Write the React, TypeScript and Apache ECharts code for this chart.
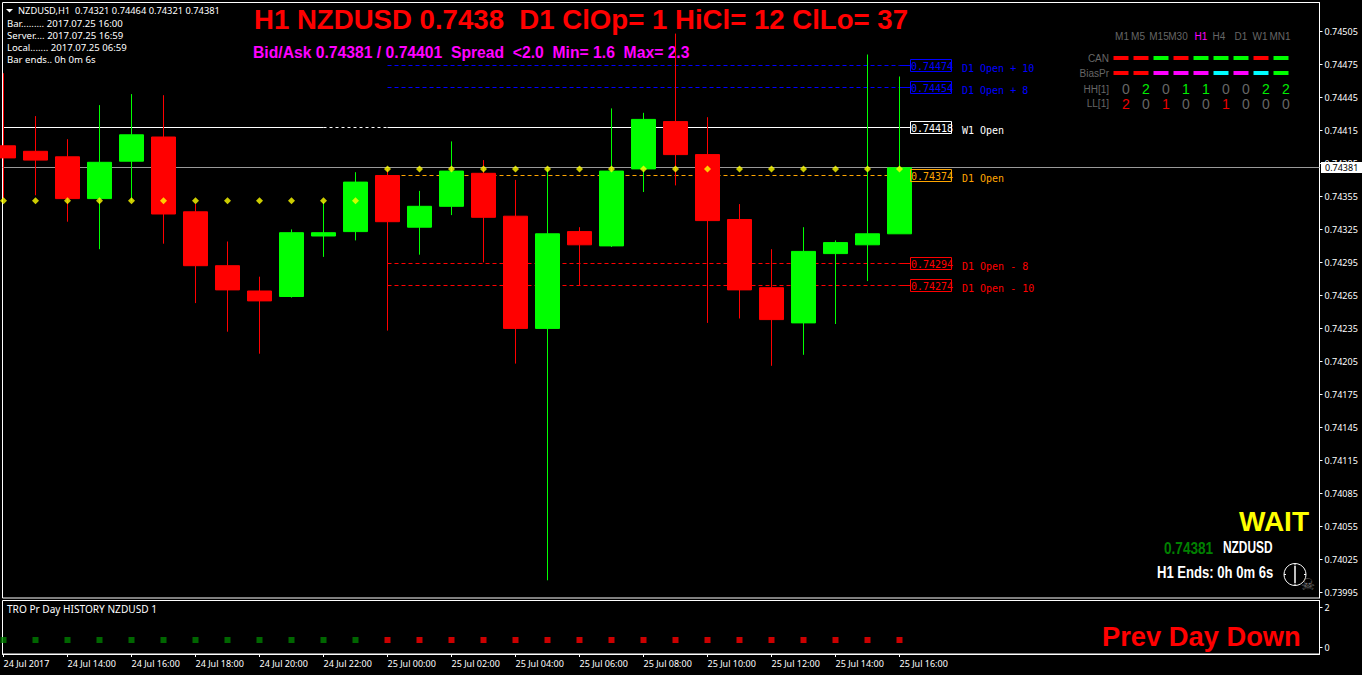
import React, { useEffect, useRef } from "react";
import * as echarts from "echarts";

const opens = [0.74401,0.74396,0.74391,0.74353,0.74387,0.74409,0.74341,0.74292,0.74269,0.74264,0.74319,0.74323,0.74374,0.74327,0.74346,0.74376,0.74337,0.74235,0.74323,0.7431,0.7438,0.74423,0.74393,0.74334,0.74272,0.7424,0.74303,0.74311,0.74321];
const closes = [0.7439,0.74388,0.74353,0.74386,0.74411,0.74339,0.74292,0.7427,0.7426,0.74322,0.74322,0.74368,0.74332,0.74346,0.74378,0.74336,0.74235,0.74321,0.74311,0.74378,0.74425,0.74393,0.74333,0.7427,0.74243,0.74305,0.74313,0.74321,0.74381];
const lows = [0.74353,0.74356,0.74332,0.74307,0.74351,0.74312,0.74258,0.74232,0.74212,0.74263,0.743,0.74315,0.74233,0.74302,0.74338,0.74295,0.74203,0.74006,0.74274,0.74309,0.74359,0.74365,0.7424,0.74244,0.74201,0.74211,0.74239,0.74278,0.74321];
const highs = [0.74467,0.74428,0.74407,0.74438,0.74448,0.74447,0.74348,0.74314,0.74282,0.74325,0.7435,0.74377,0.7438,0.7436,0.74405,0.74388,0.7437,0.7438,0.74327,0.74435,0.74431,0.74503,0.74427,0.74348,0.74307,0.74327,0.74315,0.74484,0.74464];
const dots = [0.74351,0.74351,0.74351,0.74351,0.74351,0.74351,0.74351,0.74351,0.74351,0.74351,0.74351,0.74351,0.7438,0.7438,0.7438,0.7438,0.7438,0.7438,0.7438,0.7438,0.7438,0.7438,0.7438,0.7438,0.7438,0.7438,0.7438,0.7438,0.7438];
const dayFlags = [1,1,1,1,1,1,1,1,1,1,1,1,-1,-1,-1,-1,-1,-1,-1,-1,-1,-1,-1,-1,-1,-1,-1,-1,-1];
const timeLabels = ["24 Jul 2017","24 Jul 14:00","24 Jul 16:00","24 Jul 18:00","24 Jul 20:00","24 Jul 22:00","25 Jul 00:00","25 Jul 02:00","25 Jul 04:00","25 Jul 06:00","25 Jul 08:00","25 Jul 10:00","25 Jul 12:00","25 Jul 14:00","25 Jul 16:00"];
const priceTicks = [0.74505,0.74475,0.74445,0.74415,0.74385,0.74355,0.74325,0.74295,0.74265,0.74235,0.74205,0.74175,0.74145,0.74115,0.74085,0.74055,0.74025,0.73995];
const bid = 0.74381;
const weekOpen = 0.74418;
const levelPrices = [0.74474,0.74454,0.74374,0.74294,0.74274];
const levelNotes = ["D1 Open + 10","D1 Open + 8","D1 Open","D1 Open - 8","D1 Open - 10"];
const levelColors = ["#0000ff","#0000ff","#ffa500","#ff0000","#ff0000"];
const tfNames = ["M1","M5","M15","M30","H1","H4","D1","W1","MN1"];
const canRow = ["#ff0000","#ff0000","#00ff00","#ff0000","#00ff00","#00ff00","#00ff00","#ff0000","#00ff00"];
const biasRow = ["#ff0000","#ff0000","#ff00ff","#ff00ff","#ff00ff","#00ffff","#ff00ff","#00ffff","#00ff00"];
const hhRow = [0,2,0,1,1,0,0,2,2];
const llRow = [2,0,1,0,0,1,0,0,0];
const infoLines = ["Bar......... 2017.07.25 16:00","Server.... 2017.07.25 16:59","Local....... 2017.07.25 06:59","Bar ends.. 0h 0m 6s"];

const UI = "'Noto Sans', sans-serif";
const ARIAL = "'Liberation Sans', sans-serif";
const MONO = "'DejaVu Sans Mono', monospace";

const T = (text: string, x: number, y: number, font: string, fill: string, align = "left", scaleX = 1) => ({
  type: "text", silent: true, x, y, scaleX,
  style: { text, font, fill, align, verticalAlign: "middle", textAlign: align, textVerticalAlign: "middle" },
});

const tfLabelX = [1122,1138,1159,1178,1201,1219,1241,1260,1280];
const dashX = [1121,1141,1161,1181,1201,1221,1241,1261,1281];
const digitX = [1126,1146,1166,1186,1206,1226,1246,1266,1286];
const digitColor = (v: number, hot: string) => (v > 0 ? hot : "#666666");

function buildGraphics() {
  const els: any[] = [];
  els.push({ type: "polygon", silent: true, shape: { points: [[6, 9],[13, 9],[9.5, 12.5]] }, style: { fill: "#ffffff" } });
  els.push(T("NZDUSD,H1  0.74321 0.74464 0.74321 0.74381", 18, 10.5, `9.3px ${UI}`, "#ffffff"));
  infoLines.forEach((s, i) => els.push(T(s, 7, 23.5 + i * 12.1, `9.6px ${UI}`, "#ffffff")));
  els.push(T("H1 NZDUSD 0.7438  D1 ClOp= 1 HiCl= 12 ClLo= 37", 254, 19.5, `bold 27.6px ${ARIAL}`, "#ff0000"));
  els.push(T("Bid/Ask 0.74381 / 0.74401  Spread  <2.0  Min= 1.6  Max= 2.3", 253, 52.5, `bold 15.7px ${ARIAL}`, "#ff00ff"));
  tfNames.forEach((s, i) => els.push(T(s, tfLabelX[i], 36.5, `10px ${ARIAL}`, s === "H1" ? "#ff00ff" : "#666666", "center")));
  [["CAN", 58.5], ["BiasPr", 73.5], ["HH[1]", 89], ["LL[1]", 103.5]].forEach(([s, y]) =>
    els.push(T(s as string, 1109, y as number, `10px ${ARIAL}`, "#666666", "right")));
  dashX.forEach((x, i) => {
    els.push({ type: "rect", silent: true, shape: { x: x - 7.5, y: 56, width: 15, height: 4 }, style: { fill: canRow[i] } });
    els.push({ type: "rect", silent: true, shape: { x: x - 7.5, y: 71, width: 15, height: 4 }, style: { fill: biasRow[i] } });
  });
  digitX.forEach((x, i) => {
    els.push(T(String(hhRow[i]), x, 88.5, `14px ${ARIAL}`, digitColor(hhRow[i], "#00ee00"), "center"));
    els.push(T(String(llRow[i]), x, 103.5, `14px ${ARIAL}`, digitColor(llRow[i], "#ee0000"), "center"));
  });
  els.push(T("WAIT", 1309, 521, `bold 28px ${ARIAL}`, "#ffff00", "right"));
  els.push(T("0.74381", 1164, 547.5, `bold 17px ${ARIAL}`, "#008000", "left", 0.8));
  els.push(T("NZDUSD", 1223, 547.5, `bold 17px ${ARIAL}`, "#ffffff", "left", 0.7));
  els.push(T("H1 Ends: 0h 0m 6s", 1157, 571.5, `bold 17px ${ARIAL}`, "#ffffff", "left", 0.77));
  els.push({ type: "circle", silent: true, shape: { cx: 1295, cy: 574.5, r: 11 }, style: { fill: "none", stroke: "#ffffff", lineWidth: 1 } });
  els.push({ type: "line", silent: true, shape: { x1: 1295, y1: 566, x2: 1295, y2: 583 }, style: { stroke: "#ffffff", lineWidth: 1.5 } });
  [[1295, 563.5, 1295, 565.5],[1295, 583.5, 1295, 585.5],[1284, 574.5, 1286, 574.5],[1304, 574.5, 1306, 574.5]].forEach(([x1, y1, x2, y2]) =>
    els.push({ type: "line", silent: true, shape: { x1, y1, x2, y2 }, style: { stroke: "#ffffff", lineWidth: 1 } }));
  els.push(T("\u2620", 1308, 584, `16px 'DejaVu Sans'`, "#707070", "center"));
  els.push(T("TRO Pr Day HISTORY NZDUSD 1", 7, 609, `10.1px ${UI}`, "#ffffff"));
  els.push(T("Prev Day Down", 1102, 636, `bold 27.3px ${ARIAL}`, "#ff0000"));
  return els;
}

const TAG_X = 28.35;
const xExtent = { min: -1 / 32, max: -1 / 32 + 1317 / 32 };
const idx = opens.map((_, i) => i);

// [x from, x to, price, colour, dash]
const segments: any[] = [
  [xExtent.min, xExtent.max, bid, "#9a9a9a", null],
  [xExtent.min, 10, weekOpen, "#ffffff", null],
  [10, 12, weekOpen, "#ffffff", [3, 3]],
  [12, TAG_X, weekOpen, "#ffffff", null],
];
levelPrices.forEach((p, i) => {
  segments.push([12, 28, p, levelColors[i], [4, 3]]);
  segments.push([28, TAG_X, p, levelColors[i], null]);
});

export default function App() {
  const ref = useRef<HTMLDivElement>(null);
  useEffect(() => {
    document.body.style.margin = "0";
    document.body.style.background = "#000";
    const chart = echarts.init(ref.current!, undefined, { renderer: "svg" });
    chart.setOption({
      animation: false,
      backgroundColor: "#000000",
      textStyle: { fontFamily: UI },
      grid: [
        { left: 2.5, top: 2.5, width: 1317, height: 595.5, show: true, borderColor: "#ffffff", borderWidth: 1, backgroundColor: "transparent" },
        { left: 2.5, top: 600.5, width: 1317, height: 53.5, show: true, borderColor: "#ffffff", borderWidth: 1, backgroundColor: "transparent" },
      ],
      xAxis: [
        { type: "value", gridIndex: 0, ...xExtent, show: false, splitLine: { show: false } },
        {
          type: "value", gridIndex: 1, ...xExtent, splitLine: { show: false },
          axisLine: { show: true, onZero: false, lineStyle: { color: "#ffffff" } },
          axisTick: { show: true, length: 3, inside: false, lineStyle: { color: "#ffffff" }, customValues: timeLabels.map((_, i) => i * 2) },
          axisLabel: {
            color: "#ffffff", fontSize: 9, fontFamily: UI, align: "left", margin: 5, showMinLabel: true, hideOverlap: false,
            customValues: timeLabels.map((_, i) => i * 2),
            formatter: (v: number) => timeLabels[Math.round(v / 2)] ?? "",
          },
        },
      ],
      yAxis: [
        {
          type: "value", gridIndex: 0, position: "right", min: 0.74505 - 566.6 * 1e-5 / 1.1, max: 0.74505 + 28.9 * 1e-5 / 1.1,
          splitLine: { show: false },
          axisLine: { show: true, onZero: false, lineStyle: { color: "#ffffff" } },
          axisTick: { show: true, length: 3, lineStyle: { color: "#ffffff" }, customValues: priceTicks },
          axisLabel: { color: "#ffffff", fontSize: 9, fontFamily: UI, margin: 5, customValues: priceTicks, formatter: (v: number) => v.toFixed(5) },
        },
        {
          type: "value", gridIndex: 1, position: "right", min: -0.35, max: 2.325,
          splitLine: { show: false },
          axisLine: { show: true, onZero: false, lineStyle: { color: "#ffffff" } },
          axisTick: { show: true, length: 3, lineStyle: { color: "#ffffff" }, customValues: [0, 2] },
          axisLabel: { color: "#ffffff", fontSize: 9, fontFamily: UI, margin: 5, customValues: [0, 2], formatter: (v: number) => String(v) },
        },
      ],
      graphic: { elements: buildGraphics() },
      series: [
        {
          type: "custom", name: "levels", xAxisIndex: 0, yAxisIndex: 0, z: 1, silent: true, encode: { x: [0, 1], y: 2 },
          data: segments.map((s) => [s[0], s[1], s[2]]),
          renderItem: (params: any, api: any) => {
            const s = segments[params.dataIndex];
            const a = api.coord([api.value(0), api.value(2)]);
            const b = api.coord([api.value(1), api.value(2)]);
            const y = Math.floor(a[1]) + 0.5;
            return {
              type: "line", silent: true,
              shape: { x1: a[0], y1: y, x2: b[0], y2: y },
              style: { stroke: s[3], lineWidth: 1, lineDash: s[4] ?? undefined },
            };
          },
        },
        {
          type: "candlestick", name: "NZDUSD,H1", xAxisIndex: 0, yAxisIndex: 0, z: 2, silent: true, barWidth: 24, clip: true,
          encode: { x: 0, y: [1, 2, 3, 4] },
          data: idx.map((i) => [i, opens[i], closes[i], lows[i], highs[i]]),
          itemStyle: { color: "#00ff00", color0: "#ff0000", borderColor: "#00ff00", borderColor0: "#ff0000", borderColorDoji: "#00ff00", borderWidth: 1 },
        },
        {
          type: "scatter", name: "dots", xAxisIndex: 0, yAxisIndex: 0, z: 3, silent: true, symbol: "diamond", symbolSize: 7, clip: true,
          data: idx.map((i) => [i, dots[i]]), itemStyle: { color: "#ffff00" },
        },
        {
          type: "scatter", name: "TRO", xAxisIndex: 1, yAxisIndex: 1, z: 3, silent: true, symbol: "rect", symbolSize: 6, clip: true,
          data: idx.map((i) => ({ value: [i, 0.35], itemStyle: { color: dayFlags[i] > 0 ? "#008000" : "#ff0000" } })),
        },
        {
          type: "custom", name: "tags", xAxisIndex: 0, yAxisIndex: 0, z: 4, silent: true, encode: { x: 0, y: 1 },
          data: [...levelPrices.map((p) => [TAG_X, p]), [TAG_X, weekOpen]],
          renderItem: (params: any, api: any) => {
            const i = params.dataIndex;
            const [x, y] = api.coord([api.value(0), api.value(1)]);
            const isW = i === levelPrices.length;
            const color = isW ? "#ffffff" : levelColors[i];
            const note = isW ? "W1 Open" : levelNotes[i];
            const px = Math.floor(y);
            const bx = Math.round(x);
            return {
              type: "group",
              children: [
                { type: "rect", shape: { x: bx - 0.5, y: px - 5.5, width: 41, height: 12 }, style: { fill: "none", stroke: color, lineWidth: 1 } },
                T(api.value(1).toFixed(5), bx, px + 1, `10px ${MONO}`, color),
                T(note, bx + 51, px + 3, `10px ${MONO}`, color),
              ],
            };
          },
        },
        {
          type: "custom", name: "bidTag", xAxisIndex: 0, yAxisIndex: 0, z: 5, silent: true, encode: { x: 0, y: 1 },
          data: [[0, bid]],
          renderItem: (_p: any, api: any) => {
            const y = Math.floor(api.coord([0, api.value(1)])[1]);
            return {
              type: "group",
              children: [
                { type: "rect", shape: { x: 1321, y: y - 5, width: 41, height: 11 }, style: { fill: "#ffffff" } },
                T(api.value(1).toFixed(5), 1325, y + 0.5, `9px ${UI}`, "#000000"),
              ],
            };
          },
        },
      ],
    });
    return () => chart.dispose();
  }, []);
  return <div ref={ref} style={{ position: "absolute", left: 0, top: 0, width: 1362, height: 675 }} />;
}
